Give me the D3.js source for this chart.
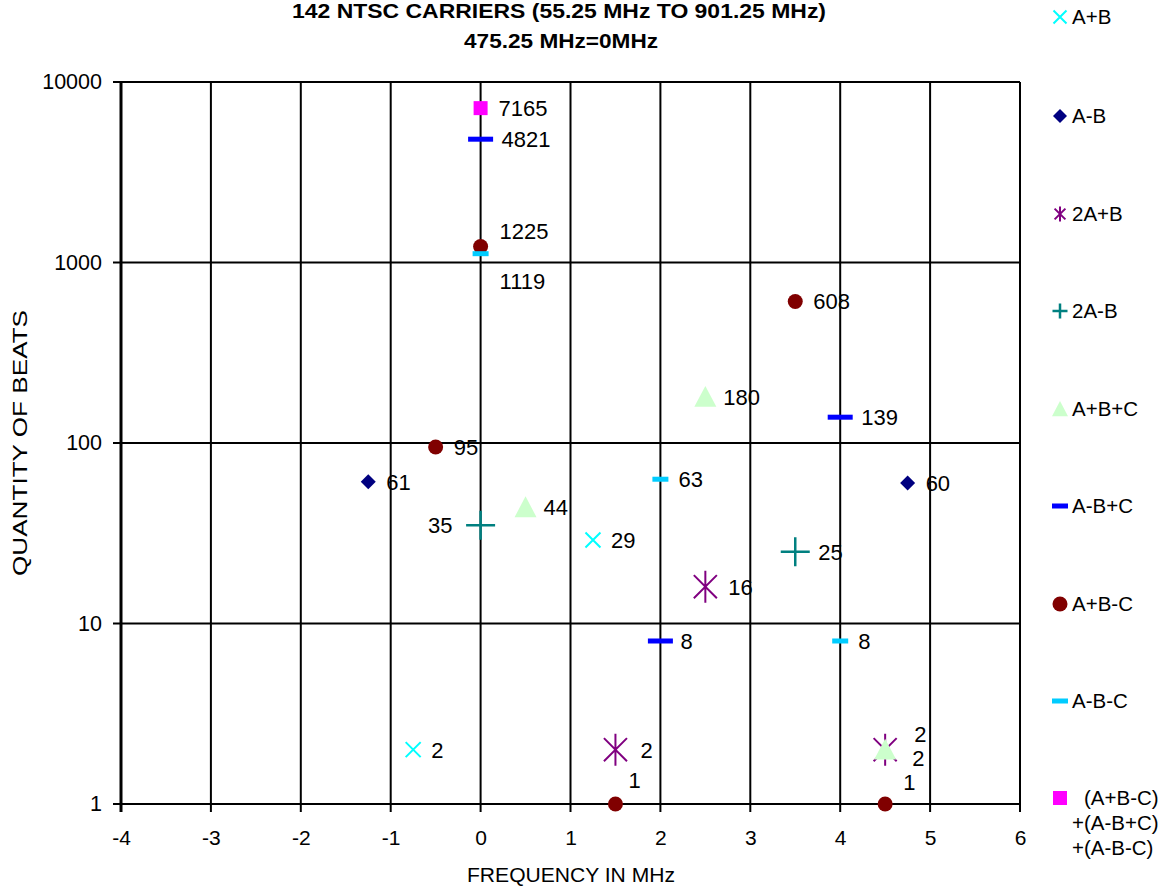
<!DOCTYPE html>
<html>
<head>
<meta charset="utf-8">
<script src="https://cdn.jsdelivr.net/npm/d3@7"></script>
<style>
  body { margin: 0; background: #fff; }
  text { font-family: Arial, "Liberation Sans", sans-serif; }
</style>
</head>
<body>
<div id="chart"></div>
<script>
// tick values
const xTicks = [-4, -3, -2, -1, 0, 1, 2, 3, 4, 5, 6];
const yTicks = [1, 10, 100, 1000, 10000];

// series (frequency in MHz, quantity of beats)
const seriesNames = ["A+B", "A-B", "2A+B", "2A-B", "A+B+C", "A-B+C", "A+B-C", "A-B-C", "SUM"];
const abX = [-0.75, 1.25],            abY = [2, 29];
const amBX = [-1.25, 4.75],           amBY = [61, 60];
const twoApBX = [1.5, 2.5, 4.5],      twoApBY = [2, 16, 2];
const twoAmBX = [0, 3.5],             twoAmBY = [35, 25];
const abcX = [0.5, 2.5, 4.5],         abcY = [44, 180, 2];
const amBpCX = [0, 4, 2],             amBpCY = [4821, 139, 8];
const apBmCX = [0, 3.5, -0.5, 1.5, 4.5], apBmCY = [1225, 608, 95, 1, 1];
const amBmCX = [0, 2, 4],             amBmCY = [1119, 63, 8];
const sumX = [0],                     sumY = [7165];

const W = 1167, H = 888;
const m = { left: 121, right: 147, top: 82, bottom: 84 };

const svg = d3.select("#chart").append("svg")
  .attr("width", W).attr("height", H);

const x = d3.scaleLinear().domain([-4, 6]).range([m.left, W - m.right]);
const y = d3.scaleLog().domain([1, 10000]).range([H - m.bottom, m.top]);

// title
svg.append("text").attr("x", 559).attr("y", 18).attr("text-anchor", "middle")
  .style("font-size", "21px").style("font-weight", "bold")
  .attr("textLength", 534).attr("lengthAdjust", "spacingAndGlyphs")
  .text("142 NTSC CARRIERS (55.25 MHz TO 901.25 MHz)");
svg.append("text").attr("x", 561).attr("y", 48).attr("text-anchor", "middle")
  .style("font-size", "21px").style("font-weight", "bold")
  .attr("textLength", 194).attr("lengthAdjust", "spacingAndGlyphs")
  .text("475.25 MHz=0MHz");

// grid
const grid = svg.append("g").attr("stroke", "#000").attr("stroke-width", 2);
grid.selectAll("line.v").data(xTicks).enter().append("line")
  .attr("x1", d => x(d)).attr("x2", d => x(d))
  .attr("y1", y(10000)).attr("y2", y(1) + 8);
grid.selectAll("line.h").data(yTicks).enter().append("line")
  .attr("x1", x(-4) - 8).attr("x2", x(6))
  .attr("y1", d => y(d)).attr("y2", d => y(d));
svg.append("line").attr("x1", x(-4)).attr("x2", x(-4))
  .attr("y1", y(10000)).attr("y2", y(1) + 8)
  .attr("stroke", "#000").attr("stroke-width", 3);

// axes labels
const xAxis = svg.append("g").attr("transform", `translate(0,${y(1)})`)
  .call(d3.axisBottom(x).tickValues(xTicks).tickSize(0).tickPadding(26).tickFormat(d => String(d)));
xAxis.select(".domain").remove();
xAxis.selectAll("text").style("font-size", "21px").attr("fill", "#000");

const yAxis = svg.append("g").attr("transform", `translate(${x(-4)},0)`)
  .call(d3.axisLeft(y).tickValues(yTicks).tickSize(0).tickPadding(19).tickFormat(d => String(d)));
yAxis.select(".domain").remove();
yAxis.selectAll("text").style("font-size", "21.5px").attr("fill", "#000");

svg.append("text").attr("x", 571).attr("y", 882).attr("text-anchor", "middle")
  .style("font-size", "20px").attr("textLength", 208).attr("lengthAdjust", "spacingAndGlyphs")
  .text("FREQUENCY IN MHz");
svg.append("text").attr("transform", "translate(27,443) rotate(-90)")
  .attr("text-anchor", "middle").style("font-size", "20px")
  .attr("textLength", 266).attr("lengthAdjust", "spacingAndGlyphs")
  .text("QUANTITY OF BEATS");

// marker drawing
function marker(g, type, cx, cy, s, color) {
  const h = s / 2;
  if (type === "x") {
    g.append("path").attr("d", `M${cx - h},${cy - h}L${cx + h},${cy + h}M${cx - h},${cy + h}L${cx + h},${cy - h}`)
      .attr("stroke", color).attr("stroke-width", 2).attr("fill", "none");
  } else if (type === "diamond") {
    g.append("path").attr("d", `M${cx},${cy - h}L${cx + h},${cy}L${cx},${cy + h}L${cx - h},${cy}Z`)
      .attr("fill", color);
  } else if (type === "star") {
    const k = h * 0.72;
    g.append("path").attr("d", `M${cx - k},${cy - k}L${cx + k},${cy + k}M${cx - k},${cy + k}L${cx + k},${cy - k}M${cx},${cy - h}L${cx},${cy + h}`)
      .attr("stroke", color).attr("stroke-width", 2).attr("fill", "none");
  } else if (type === "plus") {
    g.append("path").attr("d", `M${cx - h},${cy}L${cx + h},${cy}M${cx},${cy - h}L${cx},${cy + h}`)
      .attr("stroke", color).attr("stroke-width", 2.5).attr("fill", "none");
  } else if (type === "tri") {
    g.append("path").attr("d", `M${cx},${cy - h}L${cx + h},${cy + h * 0.9}L${cx - h},${cy + h * 0.9}Z`)
      .attr("fill", color);
  } else if (type === "dash") {
    g.append("rect").attr("x", cx - h).attr("y", cy - 2.5).attr("width", s).attr("height", 5)
      .attr("fill", color);
  } else if (type === "circle") {
    g.append("circle").attr("cx", cx).attr("cy", cy).attr("r", h).attr("fill", color);
  } else if (type === "square") {
    g.append("rect").attr("x", cx - h).attr("y", cy - h).attr("width", s).attr("height", s)
      .attr("fill", color);
  }
}

const series = [
  { name: "A+B",   xs: abX,     ys: abY,     type: "x",       color: "#00FFFF", size: 15, leg: 13 },
  { name: "A-B",   xs: amBX,    ys: amBY,    type: "diamond", color: "#000080", size: 15, leg: 14 },
  { name: "2A+B",  xs: twoApBX, ys: twoApBY, type: "star",    color: "#800080", size: 32, leg: 15 },
  { name: "2A-B",  xs: twoAmBX, ys: twoAmBY, type: "plus",    color: "#008080", size: 29, leg: 15 },
  { name: "A+B+C", xs: abcX,    ys: abcY,    type: "tri",     color: "#CCFFCC", size: 22, leg: 16 },
  { name: "A-B+C", xs: amBpCX,  ys: amBpCY,  type: "dash",    color: "#0000FF", size: 25, leg: 16 },
  { name: "A+B-C", xs: apBmCX,  ys: apBmCY,  type: "circle",  color: "#800000", size: 15, leg: 15 },
  { name: "A-B-C", xs: amBmCX,  ys: amBmCY,  type: "dash",    color: "#00CCFF", size: 16, leg: 16 },
  { name: "SUM",   xs: sumX,    ys: sumY,    type: "square",  color: "#FF00FF", size: 14, leg: 14 }
];

// label placement tweaks (series name -> point index -> [dx, dy, anchor])
const labelPos = {
  "2A+B": { 0: [25, 0], 1: [23, 0], 2: [29, -16] },
  "2A-B": { 0: [-28, 0, "end"], 1: [23, 0] },
  "A+B+C": { 2: [27, 8] },
  "A-B+C": { 0: [21, 0], 1: [21, 0], 2: [20, 0] },
  "A+B-C": { 0: [19, -16], 3: [13, -24], 4: [18, -22] },
  "A-B-C": { 0: [19, 27] }
};

const marks = svg.append("g");
const labels = svg.append("g");
series.forEach(s => {
  s.xs.forEach((xv, i) => {
    const cx = x(xv), cy = y(s.ys[i]);
    marker(marks, s.type, cx, cy, s.size, s.color);
    const p = (labelPos[s.name] && labelPos[s.name][i]) || [18, 0];
    labels.append("text").attr("x", cx + p[0]).attr("y", cy + p[1])
      .attr("dy", "0.36em").attr("text-anchor", p[2] || "start")
      .style("font-size", "22px").attr("fill", "#000")
      .text(s.ys[i]);
  });
});

// legend
const legRows = [17, 116, 214, 311, 409, 506, 604, 701, 798];
const legend = svg.append("g");
const legFont = "20.5px";
series.forEach((s, i) => {
  marker(legend, s.type, 1060, legRows[i], s.leg, s.color);
  if (s.name !== "SUM") {
    legend.append("text").attr("x", 1072).attr("y", legRows[i]).attr("dy", "0.36em")
      .style("font-size", legFont).text(s.name);
  } else {
    legend.append("text").attr("x", 1084).attr("y", legRows[i]).attr("dy", "0.36em")
      .style("font-size", legFont).text("(A+B-C)");
    legend.append("text").attr("x", 1072).attr("y", legRows[i] + 25).attr("dy", "0.36em")
      .style("font-size", legFont).text("+(A-B+C)");
    legend.append("text").attr("x", 1072).attr("y", legRows[i] + 50).attr("dy", "0.36em")
      .style("font-size", legFont).text("+(A-B-C)");
  }
});
</script>
</body>
</html>
